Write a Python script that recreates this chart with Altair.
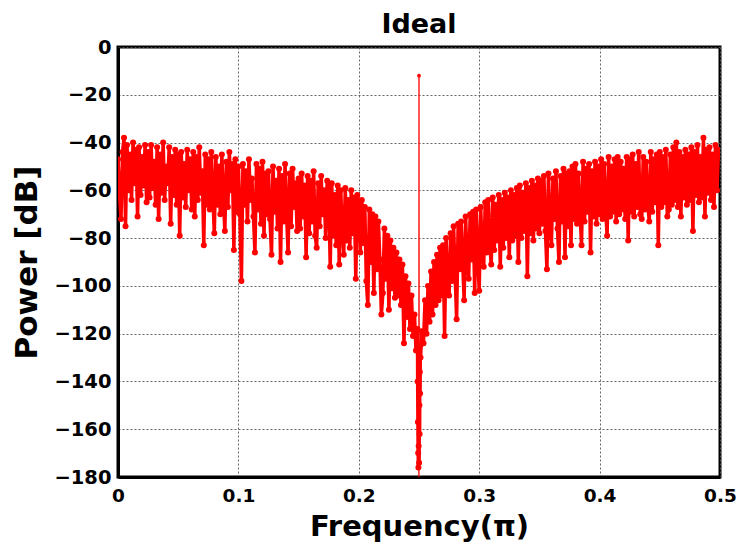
import altair as alt
import pandas as pd

# Power spectrum (dB) on a uniform grid of 401 bins from 0 to 0.5 (units of pi)
power_db = [
    -47, -62, -72, -44, -38, -75, -41, -60, -45, -64, -40, -57, -43, -71, -42, -62, -46, -58, -41, -65,
    -44, -63, -41, -59, -48, -66, -42, -72, -45, -61, -40, -64, -50, -57, -42, -74, -46, -62, -43, -66,
    -45, -79, -44, -63, -49, -67, -43, -60, -47, -68, -44, -71, -46, -64, -42, -61, -52, -83, -45, -66,
    -47, -68, -44, -62, -78, -46, -66, -50, -70, -45, -63, -77, -48, -67, -44, -60, -49, -85, -47, -69,
    -50, -70, -98, -49, -66, -52, -73, -47, -64, -55, -71, -86, -49, -68, -51, -74, -48, -79, -53, -70,
    -52, -72, -87, -50, -69, -56, -76, -51, -90, -54, -73, -49, -70, -86, -53, -75, -51, -67, -57, -77,
    -55, -76, -53, -71, -58, -88, -54, -78, -56, -73, -52, -79, -84, -57, -75, -54, -70, -60, -80, -56,
    -59, -92, -57, -79, -62, -83, -58, -91, -60, -76, -87, -59, -81, -64, -84, -60, -78, -63, -97, -62,
    -65, -86, -64, -82, -67, -98, -108, -68, -90, -70, -103, -71, -93, -73, -89, -112, -103, -76, -97, -79,
    -110, -81, -101, -84, -105, -86, -104, -89, -108, -91, -124, -96, -113, -99, -118, -104, -121, -112, -127, -118,
    -12, -130, -119, -124, -106, -120, -100, -115, -94, -112, -90, -108, -87, -106, -84, -104, -83, -121, -80, -100,
    -104, -78, -98, -75, -95, -114, -74, -93, -73, -90, -106, -71, -92, -97, -70, -89, -69, -103, -68, -88,
    -102, -67, -87, -92, -65, -86, -64, -83, -91, -63, -85, -66, -81, -62, -92, -64, -84, -61, -80, -63,
    -88, -60, -81, -62, -79, -59, -90, -58, -80, -61, -77, -57, -96, -59, -78, -56, -81, -58, -76, -55,
    -78, -56, -74, -54, -77, -93, -53, -75, -83, -55, -72, -52, -76, -90, -54, -73, -51, -88, -53, -75,
    -52, -83, -50, -72, -49, -74, -53, -70, -83, -48, -73, -51, -69, -49, -86, -52, -71, -48, -74, -50,
    -70, -47, -72, -49, -68, -79, -46, -71, -50, -69, -47, -73, -46, -70, -48, -68, -51, -72, -46, -81,
    -47, -69, -45, -71, -49, -67, -44, -70, -72, -46, -68, -48, -66, -73, -44, -69, -47, -65, -45, -83,
    -44, -67, -46, -65, -43, -71, -68, -45, -66, -42, -64, -40, -67, -44, -71, -46, -63, -43, -66, -45,
    -64, -42, -77, -44, -62, -41, -65, -46, -63, -38, -71, -43, -61, -42, -64, -45, -67, -41, -60, -43,
    -45,
]

# Extra finely spaced points inside the deep notch around 0.25
notch_freq = [0.2489, 0.2491, 0.2493, 0.2495, 0.2497, 0.2499,
              0.2501, 0.2503, 0.2505, 0.2507, 0.2509, 0.2511]
notch_db = [-140, -157, -170, -176, -167, -230,
            -174, -150, -162, -136, -145, -125]

x_ticks = [0, 0.1, 0.2, 0.3, 0.4, 0.5]
y_ticks = [0, -20, -40, -60, -80, -100, -120, -140, -160, -180]

n = len(power_db)
freq = [i * 0.5 / (n - 1) for i in range(n)]
df = pd.DataFrame({"f": freq + notch_freq, "p": power_db + notch_db}).sort_values("f")

# the tone bin and its off-scale neighbour are drawn with a thin line, as in the original
tone_f = 0.25
main_df = df[(df.f != tone_f) & (df.p >= -180)]
spike_df = df[(df.f >= 0.2499) & (df.f <= 0.2501)]
dots_df = df[df.p >= -180]

FONT = "DejaVu Sans"
RED = "#ff0000"

x_scale = alt.Scale(domain=[0, 0.5], nice=False, zero=False)
y_scale = alt.Scale(domain=[-180, 0], nice=False)

x_enc = alt.X(
    "f:Q",
    scale=x_scale,
    axis=alt.Axis(
        values=x_ticks,
        labelExpr="datum.value == 0 ? '0' : format(datum.value, '.1f')",
        title="Frequency(π)",
        labelFlush=False,
        titlePadding=8,
        titleFontSize=29,
        labelPadding=9,
        labelFontSize=18.5,
    ),
)
y_enc = alt.Y(
    "p:Q",
    scale=y_scale,
    axis=alt.Axis(values=y_ticks, format="d", title="Power [dB]", labelFlush=False,
                  titlePadding=10, titleFontSize=31, labelPadding=7, labelFontSize=19.5),
)

line = alt.Chart(main_df).mark_line(color=RED, strokeWidth=3.5, clip=True).encode(
    x=x_enc, y=y_enc, order="f:Q"
)
spike = alt.Chart(spike_df).mark_line(color=RED, strokeWidth=1.3, clip=True).encode(
    x=alt.X("f:Q", scale=x_scale), y=alt.Y("p:Q", scale=y_scale), order="f:Q"
)
pts = alt.Chart(dots_df).mark_circle(color=RED, opacity=1, clip=True).encode(
    x=alt.X("f:Q", scale=x_scale), y=alt.Y("p:Q", scale=y_scale),
    size=alt.condition(f"datum.f == {tone_f}", alt.value(14), alt.value(36)),
)

chart = (
    alt.layer(line, spike, pts)
    .properties(
        width=602,
        height=430,
        autosize=alt.AutoSizeParams(type="none"),
        padding={"left": 118, "top": 47, "right": 16, "bottom": 69},
        background="white",
        title=alt.TitleParams(
            "Ideal", font=FONT, fontSize=27, fontWeight="bold", color="black",
            anchor="middle", offset=-2,
        ),
    )
    .configure_view(stroke="black", strokeWidth=3)
    .configure_axis(
        labelFont=FONT, labelFontWeight="bold", labelColor="black",
        titleFont=FONT, titleFontWeight="bold", titleColor="black",
        domainColor="black", domainWidth=3, ticks=False,
        grid=True, gridColor="#555555", gridDash=[2, 2], gridWidth=1, gridOpacity=0.9,
    )
)

chart.save("out.html", embed_options={"renderer": "svg", "actions": False})
